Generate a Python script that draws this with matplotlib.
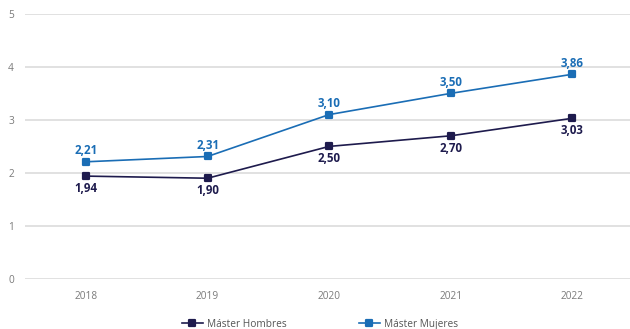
import matplotlib
matplotlib.use("Agg")
import matplotlib.pyplot as plt
from matplotlib.markers import MarkerStyle

years = ["2018", "2019", "2020", "2021", "2022"]
hombres = [1.94, 1.90, 2.50, 2.70, 3.03]
mujeres = [2.21, 2.31, 3.10, 3.50, 3.86]
y_ticks = [0, 1, 2, 3, 4, 5]

plt.rcParams['font.family'] = ['Open Sans', 'DejaVu Sans']

c_hom = '#1e1b4d'
c_muj = '#1a6db5'
c_tick = '#7a7a7a'

fig = plt.figure(figsize=(6.3, 3.29), dpi=100)
ax = fig.add_axes([0.04, 0.152, 0.965, 0.806])

x = list(range(len(years)))
mk = MarkerStyle('s', joinstyle='round')

ax.plot(x, hombres, color=c_hom, linewidth=1.2, marker=mk, markersize=4,
        markeredgewidth=1.6, label='Máster Hombres', zorder=3)
ax.plot(x, mujeres, color=c_muj, linewidth=1.2, marker=mk, markersize=4,
        markeredgewidth=1.6, label='Máster Mujeres', zorder=3)

# value labels: below for men, above for women
for xi, v in zip(x, hombres):
    ax.annotate(f"{v:.2f}".replace('.', ','), (xi, v), xytext=(0, -9),
                textcoords='offset points', ha='center', va='center',
                fontsize=8.3, fontweight='bold', color=c_hom)
for xi, v in zip(x, mujeres):
    ax.annotate(f"{v:.2f}".replace('.', ','), (xi, v), xytext=(0, 8),
                textcoords='offset points', ha='center', va='center',
                fontsize=8.3, fontweight='bold', color=c_muj)

ax.set_xlim(-0.5, len(years) - 0.5)
ax.set_ylim(0, 5)
ax.set_xticks(x)
ax.set_xticklabels(years)
ax.set_yticks(y_ticks)
ax.grid(axis='y', color='#dcdcdc', linewidth=1.2)
ax.set_axisbelow(True)
for s in ax.spines.values():
    s.set_visible(False)
ax.tick_params(length=0, labelsize=7.3, labelcolor=c_tick)
ax.tick_params(axis='x', pad=9)
ax.tick_params(axis='y', pad=8)

fig.legend(loc='lower center', bbox_to_anchor=(0.508, -0.03), ncol=2, frameon=False,
           fontsize=7.3, labelcolor='#555555', columnspacing=7.2, handlelength=2,
           handletextpad=0.4)

fig.savefig('out.png', dpi=100)
